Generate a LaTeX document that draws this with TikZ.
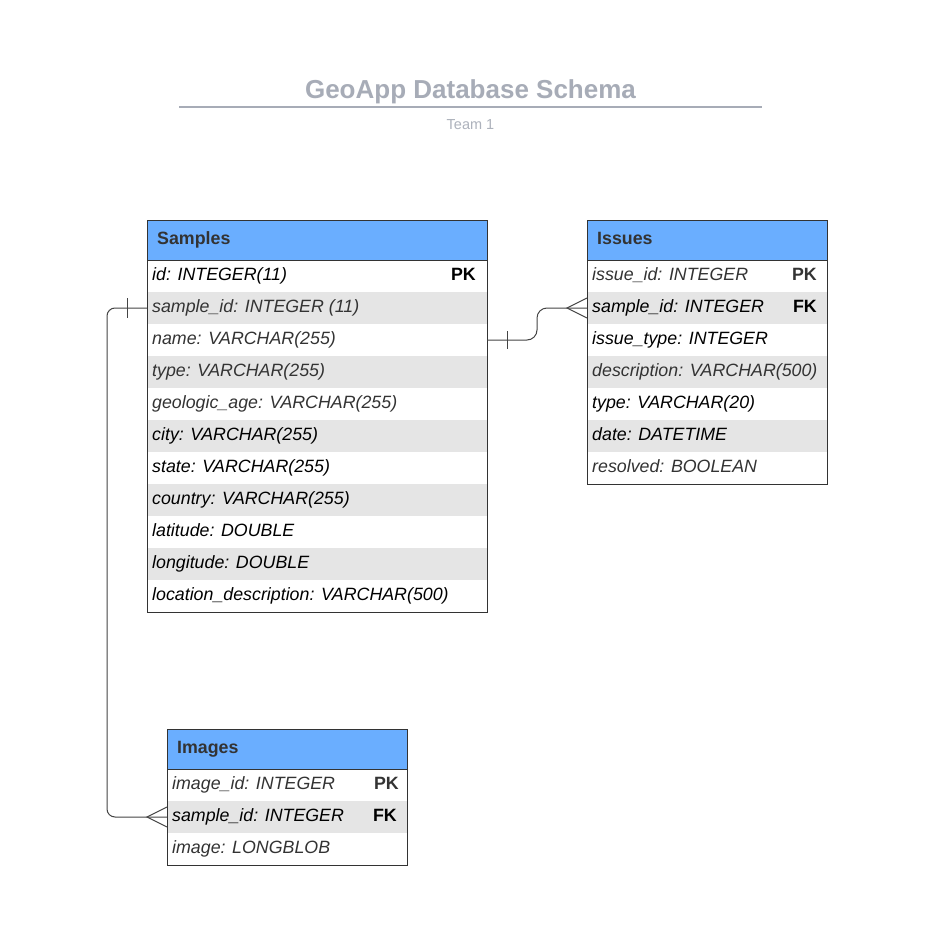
\documentclass[tikz,border=0pt]{standalone}
\usepackage{fontspec}
\setmainfont{Liberation Sans}
\usetikzlibrary{calc}
\definecolor{hdrblue}{HTML}{6AAEFF}
\definecolor{rowgray}{HTML}{E5E5E5}
\definecolor{dark}{HTML}{333333}
\definecolor{titlegray}{HTML}{A7ACB7}
\definecolor{teamgray}{HTML}{ADB2BC}
\definecolor{linegray}{HTML}{444444}
\tikzset{
  hdr/.style={rectangle, fill=hdrblue, minimum height=40pt, inner sep=0pt, outer sep=0pt},
  hdrtext/.style={inner sep=0pt, text=dark, font=\fontsize{17.8}{20}\selectfont\bfseries},
  rowbox/.style={rectangle, minimum height=32pt, inner sep=0pt, outer sep=0pt},
  rowtext/.style={inner sep=0pt, font=\fontsize{17.8}{20}\selectfont\itshape},
  keytext/.style={inner sep=0pt, font=\fontsize{17.8}{20}\selectfont\bfseries},
  tableborder/.style={draw=dark, line width=1pt},
  conn/.style={draw=linegray, line width=1pt},
}
% header: name, x, y, width, title
\newcommand{\tabhead}[5]{%
  \node[hdr, minimum width=#4pt, anchor=north west] (#1) at (#2,#3) {};
  \node[hdrtext, anchor=base west] (#1-t) at (#2+10,#3+24.5) {#5};
}
% row: name, x, y, width, fill, textcolor, text
\newcommand{\frow}[7]{%
  \node[rowbox, fill=#5, minimum width=#4pt, anchor=north west] (#1) at (#2,#3) {};
  \node[rowtext, text=#6, anchor=base west] (#1-t) at (#2+5,#3+20) {#7};
}
% key: rowname, x of right end, y, textcolor, key
\newcommand{\keyl}[5]{%
  \node[keytext, text=#4, anchor=base east] (#1-k) at (#2,#3+20) {#5};
}
\begin{document}
\begin{tikzpicture}[x=1pt,y=-1pt]
\useasboundingbox (0,0) rectangle (938,939);
\fill[white] (0,0) rectangle (938,939);
% title
\node[inner sep=0pt, anchor=base, text=titlegray, font=\fontsize{26}{30}\selectfont\bfseries] (title) at (470.5,98.5) {GeoApp Database Schema};
\coordinate (ruleL) at (179,107);
\coordinate (ruleR) at (762,107);
\draw[titlegray, line width=2pt] (ruleL) -- (ruleR);
\node[inner sep=0pt, anchor=base, text=teamgray, font=\fontsize{14.5}{17}\selectfont] (team) at (470.5,129) {Team 1};

% Samples
\tabhead{s}{147}{220}{340}{Samples}
\frow{s-id}{147}{260}{340}{white}{black}{id: INTEGER(11)}
\keyl{s-id}{476}{260}{black}{PK}
\frow{s-sid}{147}{292}{340}{rowgray}{dark}{sample\_id: INTEGER (11)}
\frow{s-name}{147}{324}{340}{white}{dark}{name: VARCHAR(255)}
\frow{s-type}{147}{356}{340}{rowgray}{dark}{type: VARCHAR(255)}
\frow{s-geo}{147}{388}{340}{white}{dark}{geologic\_age: VARCHAR(255)}
\frow{s-city}{147}{420}{340}{rowgray}{black}{city: VARCHAR(255)}
\frow{s-state}{147}{452}{340}{white}{black}{state: VARCHAR(255)}
\frow{s-country}{147}{484}{340}{rowgray}{black}{country: VARCHAR(255)}
\frow{s-lat}{147}{516}{340}{white}{black}{latitude: DOUBLE}
\frow{s-lon}{147}{548}{340}{rowgray}{black}{longitude: DOUBLE}
\frow{s-loc}{147}{580}{340}{white}{black}{location\_description: VARCHAR(500)}
\draw[tableborder] (s.north west) rectangle (s-loc.south east);
\draw[tableborder] (s.south west) -- (s.south east);

% Issues
\tabhead{i}{587}{220}{240}{Issues}
\frow{i-iid}{587}{260}{240}{white}{dark}{issue\_id: INTEGER}
\keyl{i-iid}{817}{260}{dark}{PK}
\frow{i-sid}{587}{292}{240}{rowgray}{black}{sample\_id: INTEGER}
\keyl{i-sid}{817}{292}{black}{FK}
\frow{i-itype}{587}{324}{240}{white}{black}{issue\_type: INTEGER}
\frow{i-desc}{587}{356}{240}{rowgray}{dark}{description: VARCHAR(500)}
\frow{i-type}{587}{388}{240}{white}{black}{type: VARCHAR(20)}
\frow{i-date}{587}{420}{240}{rowgray}{black}{date: DATETIME}
\frow{i-res}{587}{452}{240}{white}{dark}{resolved: BOOLEAN}
\draw[tableborder] (i.north west) rectangle (i-res.south east);
\draw[tableborder] (i.south west) -- (i.south east);

% Images
\tabhead{m}{167}{729}{240}{Images}
\frow{m-iid}{167}{769}{240}{white}{dark}{image\_id: INTEGER}
\keyl{m-iid}{399}{769}{dark}{PK}
\frow{m-sid}{167}{801}{240}{rowgray}{black}{sample\_id: INTEGER}
\keyl{m-sid}{397}{801}{black}{FK}
\frow{m-img}{167}{833}{240}{white}{dark}{image: LONGBLOB}
\draw[tableborder] (m.north west) rectangle (m-img.south east);
\draw[tableborder] (m.south west) -- (m.south east);

% connector Samples.name -> Issues.sample_id
\draw[conn, rounded corners=10pt] (s-name.east) -- ++(50,0) |- (i-sid.west);
\draw[conn] ($(s-name.east)+(20,-9)$) -- ($(s-name.east)+(20,9)$);
\draw[conn] ($(i-sid.west)+(0,-10)$) -- ($(i-sid.west)+(-20,0)$) -- ($(i-sid.west)+(0,10)$);

% connector Samples.sample_id -> Images.sample_id
\draw[conn, rounded corners=8pt] (s-sid.west) -- ++(-40,0) |- (m-sid.west);
\draw[conn] ($(s-sid.west)+(-20,-10)$) -- ($(s-sid.west)+(-20,10)$);
\draw[conn] ($(m-sid.west)+(0,-10)$) -- ($(m-sid.west)+(-20,0)$) -- ($(m-sid.west)+(0,10)$);
\end{tikzpicture}
\end{document}
